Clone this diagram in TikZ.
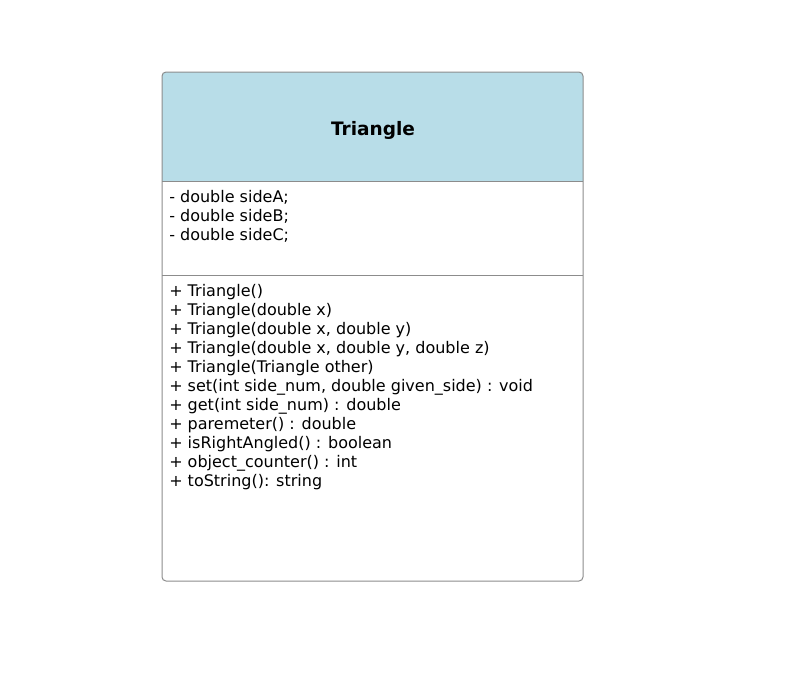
\documentclass[tikz,border=0pt]{standalone}
\usepackage{fontspec}
\setmainfont{DejaVu Sans}
\usepackage{tikz}
\definecolor{bleu}{RGB}{184,221,232}
\definecolor{gris}{RGB}{140,140,140}
\tikzset{
    cadre/.style={draw=gris, line width=0.75pt},
    liste/.style={anchor=base west, inner sep=0pt, align=left, font=\fontsize{12}{14.25}\selectfont},
  }
\begin{document}
\begin{tikzpicture}[x=0.75pt,y=-0.75pt]
	\useasboundingbox (0,0) rectangle (785,672);
	%coins du cadre et separations
	%listes : ancre base = ligne de base de la derniere ligne
	\coordinate (NO) at (162,72);
	\coordinate (SE) at (583,581);
	\coordinate (D1) at (162,181);
	\coordinate (D2) at (162,275);
	\begin{scope}
		\clip (NO) rectangle (D1 -| SE);
		\fill[bleu, rounded corners=3pt] (NO) rectangle (SE);
	\end{scope}
	\draw[cadre] (D1) -- (D1 -| SE);
	\draw[cadre] (D2) -- (D2 -| SE);
	\draw[cadre, rounded corners=3pt] (NO) rectangle (SE);
	\node[font=\fontsize{13.9}{16}\selectfont\bfseries, anchor=base] (T) at (373,135) {Triangle};
	\node[liste] (P) at (169,240) {- double sideA;\\- double sideB;\\- double sideC;};
	\node[liste] (M) at (169,486) {+ Triangle()\\
		+ Triangle(double x)\\
		+ Triangle(double x, double y)\\
		+ Triangle(double x, double y, double z)\\
		+ Triangle(Triangle other)\\
		+ set(int side\_num, double given\_side) : void\\
		+ get(int side\_num) : double\\
		+ paremeter() : double\\
		+ isRightAngled() : boolean\\
		+ object\_counter() : int\\
		+ toString(): string};
\end{tikzpicture}
\end{document}
